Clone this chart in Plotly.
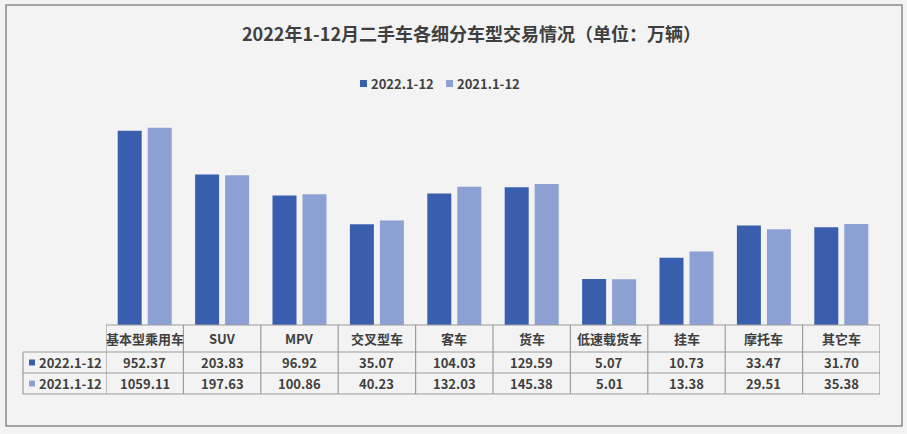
import plotly.graph_objects as go

categories = ["基本型乘用车", "SUV", "MPV", "交叉型车", "客车", "货车", "低速载货车", "挂车", "摩托车", "其它车"]
series_names = ["2022.1-12", "2021.1-12"]
values_2022 = [952.37, 203.83, 96.92, 35.07, 104.03, 129.59, 5.07, 10.73, 33.47, 31.70]
values_2021 = [1059.11, 197.63, 100.86, 40.23, 132.03, 145.38, 5.01, 13.38, 29.51, 35.38]

W, H = 907, 434
ML, MR, MT, MB = 106, 27, 70, 109
PW, PH = W - ML - MR, H - MT - MB
FONT = "Noto Sans CJK SC, Noto Sans, sans-serif"
TXT = "#3f3f3f"
GRID = "#9c9c9c"
COLORS = ["#3a5eae", "#8ca0d4"]


def px_x(p):
    return (p - ML) / PW


def px_y(p):
    return (H - MB - p) / PH


def label(x, y, text, xref="paper", xanchor="center"):
    return dict(x=x, y=y, xref=xref, yref="paper", xanchor=xanchor, yanchor="middle",
                text=f"<b>{text}</b>", showarrow=False,
                font=dict(size=13, color=TXT, family=FONT))


fig = go.Figure()
for name, vals, color in zip(series_names, [values_2022, values_2021], COLORS):
    fig.add_trace(go.Bar(x=categories, y=vals, name=name, marker_color=color,
                         marker_line_width=0, showlegend=False))

shapes = []
annotations = []

# legend drawn by hand (small squares like the original)
for (x0, name, color) in zip([360, 446], series_names, COLORS):
    shapes.append(dict(type="rect", xref="paper", yref="paper", x0=px_x(x0), x1=px_x(x0 + 7),
                       y0=px_y(87), y1=px_y(80), fillcolor=color, line_width=0))
    annotations.append(label(px_x(x0 + 9), px_y(83.5), name, xanchor="left"))

# data table under the bars
rows = [(362.5, values_2022), (383.5, values_2021)]
line = dict(color=GRID, width=1.2)
shapes.append(dict(type="line", xref="x", yref="paper", x0=-0.5, x1=len(categories) - 0.5,
                   y0=px_y(325), y1=px_y(325), line=line))
for yy in [352, 373, 394]:
    shapes.append(dict(type="line", xref="paper", yref="paper", x0=px_x(23), x1=px_x(880),
                       y0=px_y(yy), y1=px_y(yy), line=line))
shapes.append(dict(type="line", xref="paper", yref="paper", x0=px_x(23), x1=px_x(23),
                   y0=px_y(352), y1=px_y(394), line=line))
for k in range(len(categories) + 1):
    shapes.append(dict(type="line", xref="x", yref="paper", x0=k - 0.5, x1=k - 0.5,
                       y0=px_y(325), y1=px_y(394), line=line))

for i, cat in enumerate(categories):
    annotations.append(label(cat, px_y(338.5), cat, xref="x"))
    for yy, vals in rows:
        annotations.append(label(cat, px_y(yy), f"{vals[i]:.2f}", xref="x"))

for (yy, _), name, color in zip(rows, series_names, COLORS):
    shapes.append(dict(type="rect", xref="paper", yref="paper", x0=px_x(29), x1=px_x(35),
                       y0=px_y(yy + 3), y1=px_y(yy - 3), fillcolor=color, line_width=0))
    annotations.append(label(px_x(37), px_y(yy), name, xanchor="left"))

# outer frame
shapes.append(dict(type="rect", xref="paper", yref="paper", x0=px_x(6), x1=px_x(902),
                   y0=px_y(426), y1=px_y(5), line=dict(color="#8a8a8a", width=1.5),
                   fillcolor="rgba(0,0,0,0)", layer="below"))

fig.update_layout(
    width=W, height=H,
    margin=dict(l=ML, r=MR, t=MT, b=MB),
    paper_bgcolor="#f3f3f3", plot_bgcolor="#f3f3f3",
    title=dict(text="<b>2022年1-12月二手车各细分车型交易情况（单位：万辆）</b>",
               x=471.5 / W, xanchor="center", xref="container",
               y=1 - 35 / H, yanchor="middle", yref="container",
               font=dict(size=18, color=TXT, family=FONT)),
    showlegend=False,
    barmode="group", bargap=0.225, bargroupgap=0.2,
    xaxis=dict(showticklabels=False, showline=False, showgrid=False, zeroline=False,
               range=[-0.5, len(categories) - 0.5]),
    yaxis=dict(type="log", range=[0, PH / 65.2], visible=False),
    shapes=shapes, annotations=annotations,
    font=dict(family=FONT),
)

# page body has a default 8px margin; drop it so the chart sits at the window origin
fig.write_html("out.html", config={"displayModeBar": False},
               post_script="document.body.style.margin='0';")
